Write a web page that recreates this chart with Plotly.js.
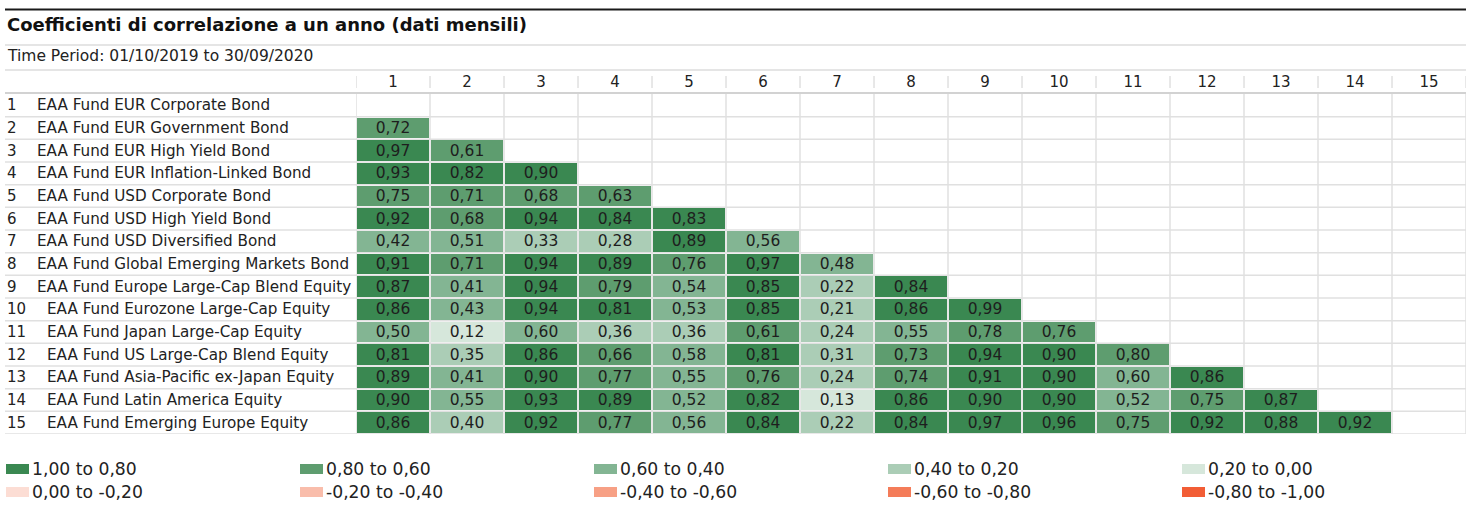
<!DOCTYPE html>
<html>
<head>
<meta charset="utf-8">
<script src="https://cdn.plot.ly/plotly-3.0.1.min.js"></script>
<style>html,body{margin:0;padding:0;background:#fff;}#chart{width:1475px;height:507px;}</style>
</head>
<body>
<div id="chart"></div>
<script>
const chartTitle = 'Coefficienti di correlazione a un anno (dati mensili)';
const periodText = 'Time Period: 01/10/2019 to 30/09/2020';
const colLabels = ['1','2','3','4','5','6','7','8','9','10','11','12','13','14','15'];
const rowNames = [
  'EAA Fund EUR Corporate Bond',
  'EAA Fund EUR Government Bond',
  'EAA Fund EUR High Yield Bond',
  'EAA Fund EUR Inflation-Linked Bond',
  'EAA Fund USD Corporate Bond',
  'EAA Fund USD High Yield Bond',
  'EAA Fund USD Diversified Bond',
  'EAA Fund Global Emerging Markets Bond',
  'EAA Fund Europe Large-Cap Blend Equity',
  'EAA Fund Eurozone Large-Cap Equity',
  'EAA Fund Japan Large-Cap Equity',
  'EAA Fund US Large-Cap Blend Equity',
  'EAA Fund Asia-Pacific ex-Japan Equity',
  'EAA Fund Latin America Equity',
  'EAA Fund Emerging Europe Equity'
];
// lower-triangle correlations, row by row
const corrRow1 = [];
const corrRow2 = [0.72];
const corrRow3 = [0.97, 0.61];
const corrRow4 = [0.93, 0.82, 0.90];
const corrRow5 = [0.75, 0.71, 0.68, 0.63];
const corrRow6 = [0.92, 0.68, 0.94, 0.84, 0.83];
const corrRow7 = [0.42, 0.51, 0.33, 0.28, 0.89, 0.56];
const corrRow8 = [0.91, 0.71, 0.94, 0.89, 0.76, 0.97, 0.48];
const corrRow9 = [0.87, 0.41, 0.94, 0.79, 0.54, 0.85, 0.22, 0.84];
const corrRow10 = [0.86, 0.43, 0.94, 0.81, 0.53, 0.85, 0.21, 0.86, 0.99];
const corrRow11 = [0.50, 0.12, 0.598, 0.36, 0.36, 0.61, 0.24, 0.55, 0.78, 0.76];
const corrRow12 = [0.81, 0.35, 0.86, 0.66, 0.58, 0.81, 0.31, 0.73, 0.94, 0.90, 0.798];
const corrRow13 = [0.89, 0.41, 0.90, 0.77, 0.55, 0.76, 0.24, 0.74, 0.91, 0.90, 0.598, 0.86];
const corrRow14 = [0.90, 0.55, 0.93, 0.89, 0.52, 0.82, 0.13, 0.86, 0.90, 0.90, 0.52, 0.75, 0.87];
const corrRow15 = [0.86, 0.398, 0.92, 0.77, 0.56, 0.84, 0.22, 0.84, 0.97, 0.96, 0.75, 0.92, 0.88, 0.92];
const corrRows = [corrRow1, corrRow2, corrRow3, corrRow4, corrRow5, corrRow6, corrRow7, corrRow8,
  corrRow9, corrRow10, corrRow11, corrRow12, corrRow13, corrRow14, corrRow15];

const binLabels = ['1,00 to 0,80','0,80 to 0,60','0,60 to 0,40','0,40 to 0,20','0,20 to 0,00',
  '0,00 to -0,20','-0,20 to -0,40','-0,40 to -0,60','-0,60 to -0,80','-0,80 to -1,00'];
const binColors = ['#3a8851','#5e9d6f','#83b593','#abcdb6','#d6e7db',
  '#fcddd4','#f9bdab','#f7a085','#f47c59','#f25d35'];

// ---- build ----
const n = colLabels.length;
const xs = colLabels.map((c, i) => i + 1);
const ys = rowNames.map((r, i) => i + 1);
const z = corrRows.map(r => xs.map((x, j) => j < r.length ? r[j] : null));
const txt = corrRows.map(r => xs.map((x, j) => j < r.length ? r[j].toFixed(2).replace('.', ',') : ''));

const asc = binColors.slice().reverse();
const colorscale = [];
asc.forEach((c, k) => { colorscale.push([k / 10, c]); colorscale.push([(k + 1) / 10, c]); });

const L = 356, R = 1466, T = 94, B = 434, W = 1475, H = 507;
const px = p => (p - L) / (R - L);
const py = p => (B - p) / (B - T);
const FONT = 'DejaVu Sans, Verdana, sans-serif';

const shapes = [];
const annotations = [];
// top black rule and header rules
shapes.push({type:'line', xref:'paper', yref:'paper', x0:px(5), x1:px(1466), y0:py(9.5), y1:py(9.5), line:{color:'#1a1a1a', width:2}});
shapes.push({type:'line', xref:'paper', yref:'paper', x0:px(5), x1:px(1466), y0:py(45), y1:py(45), line:{color:'#dcdcdc', width:1.5}});
shapes.push({type:'line', xref:'paper', yref:'paper', x0:px(5), x1:px(1466), y0:py(70), y1:py(70), line:{color:'#dcdcdc', width:1.5}});
shapes.push({type:'line', xref:'paper', yref:'paper', x0:px(5), x1:px(1466), y0:py(93), y1:py(93), line:{color:'#d2d2d2', width:2}});
// row boundaries
for (let k = 1; k <= n; k++) {
  shapes.push({type:'line', layer:'below', xref:'paper', yref:'y', x0:px(5), x1:px(1466), y0:k + 0.5, y1:k + 0.5, line:{color:'#e0e0e0', width:1.5}});
}
// column boundaries + header separators
for (let k = 0; k <= n; k++) {
  shapes.push({type:'line', layer:'below', xref:'x', yref:'paper', x0:k + 0.5, x1:k + 0.5, y0:0, y1:1, line:{color:'#e0e0e0', width:1.5}});
  shapes.push({type:'line', xref:'x', yref:'paper', x0:k + 0.5, x1:k + 0.5, y0:py(76), y1:py(88), line:{color:'#d0d0d0', width:1}});
}
// title & period
annotations.push({xref:'paper', yref:'paper', x:px(5), y:py(24), xanchor:'left', yanchor:'middle', showarrow:false,
  text:'<b>' + chartTitle + '</b>', font:{family:FONT, size:18, color:'#111'}});
annotations.push({xref:'paper', yref:'paper', x:px(5), y:py(56), xanchor:'left', yanchor:'middle', showarrow:false,
  text:periodText, font:{family:FONT, size:15.5, color:'#222'}});
// row labels
rowNames.forEach((name, i) => {
  annotations.push({xref:'paper', yref:'y', x:px(5), y:i + 1, xanchor:'left', yanchor:'middle', showarrow:false,
    text:String(i + 1), font:{family:FONT, size:15, color:'#222'}});
  annotations.push({xref:'paper', yref:'y', x:px(i + 1 >= 10 ? 45 : 35), y:i + 1, xanchor:'left', yanchor:'middle', showarrow:false,
    text:name, font:{family:FONT, size:15.2, color:'#222'}});
});
// legend
const legX = [6, 300, 594, 888, 1182];
const legY = [469, 492];
binLabels.forEach((lab, k) => {
  const cx = legX[k % 5], cy = legY[Math.floor(k / 5)];
  shapes.push({type:'rect', xref:'paper', yref:'paper', x0:px(cx), x1:px(cx + 23), y0:py(cy + 5), y1:py(cy - 5),
    fillcolor:binColors[k], line:{width:0}});
  annotations.push({xref:'paper', yref:'paper', x:px(cx + 24), y:py(cy), xanchor:'left', yanchor:'middle', showarrow:false,
    text:lab, font:{family:FONT, size:17.2, color:'#222'}});
});

const trace = {
  type:'heatmap', x:xs, y:ys, z:z, text:txt, texttemplate:'%{text}',
  textfont:{family:FONT, size:15.5, color:'#1e1e1e'},
  colorscale:colorscale, zmin:-1, zmax:1, showscale:false,
  xgap:2, ygap:2, hoverinfo:'skip'
};

const layout = {
  width:W, height:H,
  margin:{l:L, r:W - R, t:T, b:H - B, pad:0},
  paper_bgcolor:'#ffffff', plot_bgcolor:'#ffffff',
  showlegend:false,
  xaxis:{range:[0.5, n + 0.5], side:'top', tickvals:xs, ticktext:colLabels, ticks:'', showgrid:false, zeroline:false,
    showline:false, ticklabelstandoff:3, tickfont:{family:FONT, size:15, color:'#222'}, fixedrange:true},
  yaxis:{range:[n + 0.5, 0.5], showticklabels:false, ticks:'', showgrid:false, zeroline:false, showline:false, fixedrange:true},
  shapes:shapes, annotations:annotations
};

Plotly.newPlot('chart', [trace], layout, {displayModeBar:false, staticPlot:true});
</script>
</body>
</html>
